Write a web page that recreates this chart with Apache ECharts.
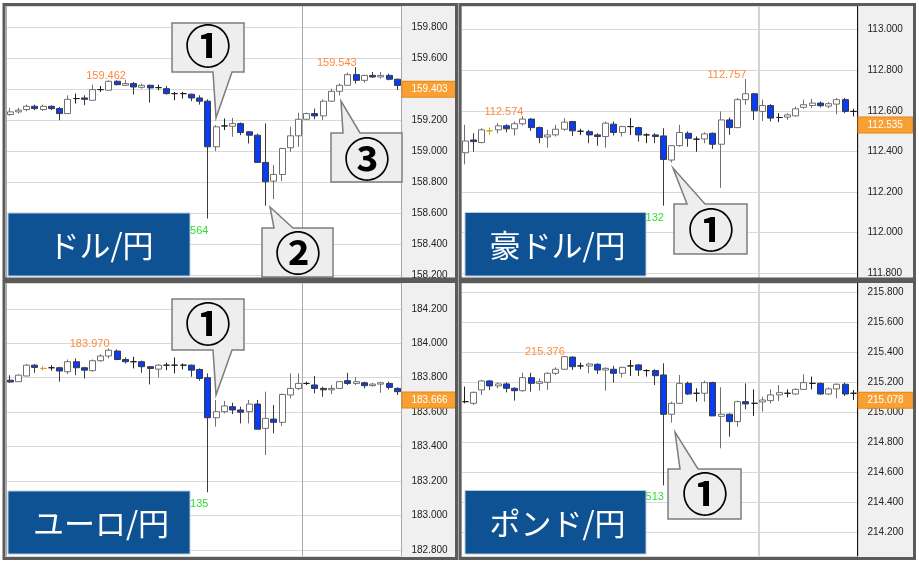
<!DOCTYPE html>
<html><head><meta charset="utf-8">
<script src="https://cdn.jsdelivr.net/npm/echarts@6/dist/echarts.min.js"></script>
<style>html,body{margin:0;padding:0;background:#fff}#c{width:919px;height:563px}</style>
</head><body><div id="c"></div>
<script>
// ---- DATA ([open, close, low, high]) ----
const categories = Array.from({length: 48}, (_, i) => String(i + 1));
const titles = ['ドル/円', '豪ドル/円', 'ユーロ/円', 'ポンド/円'];
const usdjpy = [
[159.237,159.254,159.228,159.280],[159.254,159.265,159.243,159.280],[159.269,159.290,159.258,159.301],[159.290,159.275,159.265,159.301],
[159.269,159.290,159.260,159.301],[159.290,159.275,159.265,159.296],[159.275,159.243,159.200,159.286],[159.243,159.335,159.243,159.361],
[159.340,159.340,159.308,159.372],[159.344,159.335,159.297,159.361],[159.329,159.398,159.329,159.430],[159.398,159.398,159.383,159.421],
[159.394,159.452,159.394,159.458],[159.452,159.430,159.426,159.458],[159.426,159.437,159.422,159.462],[159.437,159.415,159.366,159.447],
[159.413,159.426,159.404,159.437],[159.426,159.409,159.314,159.430],[159.411,159.411,159.394,159.430],[159.404,159.372,159.366,159.421],
[159.372,159.372,159.329,159.383],[159.372,159.372,159.340,159.383],[159.368,159.344,159.323,159.372],[159.344,159.323,159.301,159.361],
[159.323,159.028,158.564,159.335],[159.028,159.157,159.000,159.168],[159.163,159.163,159.136,159.211],[159.161,159.178,159.093,159.215],
[159.178,159.120,159.103,159.185],[159.125,159.103,159.050,159.129],[159.103,158.927,158.927,159.114],[158.927,158.802,158.647,159.179],
[158.806,158.849,158.690,158.910],[158.849,159.017,158.806,159.022],[159.022,159.099,158.996,159.157],[159.099,159.206,159.028,159.249],
[159.206,159.243,159.200,159.249],[159.243,159.228,159.206,159.275],[159.228,159.323,159.200,159.335],[159.323,159.387,159.318,159.404],
[159.387,159.426,159.361,159.437],[159.426,159.495,159.426,159.508],[159.495,159.458,159.437,159.543],[159.458,159.490,159.443,159.495],
[159.490,159.480,159.473,159.512],[159.480,159.490,159.469,159.512],[159.490,159.465,159.458,159.501],[159.465,159.425,159.395,159.469]];
const audjpy = [
[112.393,112.451,112.336,112.531],[112.456,112.448,112.398,112.489],[112.443,112.506,112.440,112.514],[112.501,112.501,112.481,112.517],
[112.506,112.526,112.489,112.539],[112.526,112.511,112.494,112.534],[112.511,112.536,112.478,112.547],[112.536,112.559,112.527,112.574],
[112.559,112.517,112.501,112.564],[112.517,112.468,112.440,112.522],[112.471,112.481,112.418,112.506],[112.481,112.509,112.473,112.531],
[112.509,112.544,112.501,112.564],[112.547,112.501,112.476,112.550],[112.499,112.499,112.481,112.511],[112.497,112.481,112.440,112.506],
[112.481,112.473,112.428,112.489],[112.473,112.539,112.418,112.547],[112.534,112.493,112.478,112.547],[112.493,112.522,112.473,112.526],
[112.522,112.522,112.481,112.564],[112.517,112.481,112.448,112.522],[112.481,112.481,112.440,112.489],[112.481,112.473,112.440,112.489],
[112.476,112.360,112.132,112.514],[112.357,112.428,112.345,112.431],[112.428,112.493,112.423,112.531],[112.489,112.464,112.423,112.498],
[112.460,112.460,112.398,112.473],[112.461,112.486,112.440,112.494],[112.489,112.435,112.412,112.493],[112.435,112.555,112.220,112.597],
[112.555,112.517,112.481,112.567],[112.517,112.655,112.514,112.663],[112.655,112.684,112.630,112.757],[112.684,112.600,112.555,112.688],
[112.597,112.626,112.550,112.655],[112.626,112.564,112.547,112.633],[112.567,112.567,112.544,112.588],[112.569,112.580,112.555,112.588],
[112.575,112.610,112.572,112.621],[112.617,112.630,112.610,112.655],[112.626,112.638,112.613,112.660],[112.638,112.625,112.617,112.646],
[112.623,112.635,112.613,112.643],[112.633,112.655,112.583,112.663],[112.655,112.597,112.588,112.663],[112.597,112.597,112.572,112.610]];
const eurjpy = [
[183.786,183.775,183.771,183.815],[183.777,183.815,183.777,183.819],[183.810,183.873,183.810,183.879],[183.873,183.860,183.829,183.879],
[183.854,183.854,183.841,183.868],[183.858,183.858,183.841,183.873],[183.858,183.839,183.777,183.864],[183.835,183.893,183.821,183.906],
[183.893,183.858,183.815,183.912],[183.858,183.844,183.796,183.864],[183.841,183.899,183.835,183.906],[183.899,183.926,183.893,183.937],
[183.926,183.960,183.912,183.970],[183.955,183.906,183.902,183.964],[183.906,183.893,183.883,183.918],[183.893,183.893,183.854,183.922],
[183.893,183.864,183.829,183.899],[183.864,183.854,183.761,183.868],[183.850,183.873,183.802,183.879],[183.873,183.873,183.844,183.887],
[183.873,183.873,183.825,183.918],[183.873,183.873,183.848,183.883],[183.873,183.844,183.806,183.877],[183.848,183.796,183.783,183.854],
[183.800,183.568,183.135,183.825],[183.568,183.603,183.516,183.671],[183.603,183.636,183.593,183.665],[183.632,183.613,183.589,183.655],
[183.613,183.600,183.535,183.632],[183.603,183.647,183.535,183.671],[183.647,183.501,183.501,183.671],[183.506,183.564,183.352,183.719],
[183.560,183.541,183.477,183.642],[183.541,183.703,183.520,183.709],[183.700,183.738,183.680,183.825],[183.738,183.767,183.729,183.825],
[183.767,183.767,183.758,183.777],[183.758,183.738,183.709,183.810],[183.738,183.730,183.690,183.748],[183.730,183.738,183.705,183.758],
[183.738,183.777,183.738,183.777],[183.783,183.767,183.758,183.829],[183.767,183.777,183.758,183.802],[183.771,183.754,183.738,183.777],
[183.754,183.763,183.748,183.771],[183.763,183.771,183.713,183.777],[183.767,183.744,183.732,183.777],[183.738,183.719,183.700,183.744]];
const gbpjpy = [
[215.071,215.071,215.060,215.171],[215.060,215.133,215.049,215.138],[215.149,215.209,215.116,215.216],[215.209,215.176,215.149,215.216],
[215.176,215.189,215.160,215.200],[215.189,215.160,215.133,215.200],[215.160,215.144,215.078,215.167],[215.144,215.231,215.138,215.264],
[215.231,215.193,215.138,215.264],[215.193,215.204,215.144,215.227],[215.200,215.260,215.149,215.267],[215.260,215.287,215.249,215.300],
[215.287,215.371,215.282,215.376],[215.368,215.304,215.282,215.372],[215.309,215.309,215.287,215.331],[215.309,215.322,215.260,215.331],
[215.320,215.282,215.256,215.327],[215.282,215.293,215.144,215.300],[215.287,215.260,215.198,215.309],[215.260,215.300,215.233,215.304],
[215.309,215.309,215.242,215.349],[215.316,215.282,215.242,215.322],[215.278,215.278,215.238,215.287],[215.278,215.244,215.182,215.287],
[215.249,214.987,214.513,215.327],[214.987,215.060,214.931,215.071],[215.060,215.193,215.056,215.249],[215.193,215.122,215.116,215.204],
[215.127,215.127,215.071,215.160],[215.127,215.198,215.071,215.211],[215.198,214.976,214.976,215.204],[214.973,214.987,214.760,215.167],
[214.987,214.938,214.838,214.993],[214.938,215.071,214.904,215.078],[215.071,215.056,215.020,215.193],[215.060,215.060,214.976,215.153],
[215.069,215.082,215.004,215.104],[215.078,215.116,215.060,215.153],[215.116,215.131,215.076,215.182],[215.127,215.127,215.100,215.153],
[215.122,215.153,215.116,215.160],[215.153,215.198,215.149,215.253],[215.193,215.193,215.153,215.238],[215.193,215.122,215.116,215.198],
[215.122,215.156,215.116,215.167],[215.156,215.187,215.093,215.193],[215.187,215.122,215.109,215.198],[215.127,215.127,215.082,215.149]];
const lastPrices = [159.403, 112.535, 183.666, 215.078];
const highLabels = [[[14,159.462],[42,159.543]], [[7,112.574],[34,112.757]], [[12,183.970]], [[12,215.376]]];
const lowLabels = [[[24,158.564]], [[24,112.132]], [[24,183.135]], [[24,214.513]]];
const highlightDoji = [[], [3], [4], []];
const yRanges = [[158.179,159.939],[111.775,113.117],[182.765,184.350],[214.042,215.862]];
const tickStep = 0.2;
const sessionBreakIndex = 36;
const calloutLabels = ['①', '②', '③', '①', '①', '①'];

// ---- LAYOUT ----
const grids = [
  {left: 6, top: 6, width: 395.5, height: 272},
  {left: 461, top: 6, width: 396.5, height: 272},
  {left: 6, top: 283, width: 395.5, height: 273},
  {left: 461, top: 283, width: 396.5, height: 273}
];
const numFont = '"Liberation Sans", Arial, sans-serif';
const datasets = [usdjpy, audjpy, eurjpy, gbpjpy];

const xAxis = grids.map((g, i) => ({
  type: 'category', gridIndex: i, data: categories, boundaryGap: true,
  axisLine: {show: false}, axisTick: {show: false}, axisLabel: {show: false},
  splitLine: {show: true, interval: (idx) => idx === 0 || idx === sessionBreakIndex,
    lineStyle: {color: i % 2 ? '#d2d2d2' : '#a8a8a8', width: i % 2 ? 2 : 1}}
}));
const yAxis = grids.map((g, i) => ({
  type: 'value', gridIndex: i, position: 'right', min: yRanges[i][0], max: yRanges[i][1],
  splitNumber: Math.round((yRanges[i][1] - yRanges[i][0]) / tickStep),
  axisLine: {show: i % 2 === 1, lineStyle: {color: '#111', width: 1}},
  axisTick: {show: false},
  axisLabel: {formatter: v => v.toFixed(3), fontSize: 10, color: '#222', margin: 10,
    fontFamily: numFont, showMinLabel: false, showMaxLabel: false},
  splitLine: {show: true, lineStyle: {color: '#d9d9d9', width: 1}}
}));

const series = datasets.map((d, i) => ({
  type: 'candlestick', xAxisIndex: i, yAxisIndex: i, barWidth: 6.5,
  data: d.map((v, k) => highlightDoji[i].includes(k)
      ? {value: v, itemStyle: {borderColorDoji: '#d9a21b'}} : v),
  itemStyle: {color: '#ffffff', color0: '#0a3cf2', borderColor: '#707070',
    borderColor0: '#3a3a3a', borderColorDoji: '#1e1e1e', borderWidth: 1},
  markPoint: {
    symbol: 'circle', symbolSize: 1, itemStyle: {color: 'transparent'}, silent: true, animation: false,
    data: highLabels[i].map(([k, v]) => ({coord: [k, v], value: v,
      label: {show: true, position: [0, 0], align: 'right', verticalAlign: 'bottom', offset: [1, 2],
        formatter: v.toFixed(3), color: '#ff8a3c', fontSize: 11, fontFamily: numFont}}))
      .concat(lowLabels[i].map(([k, v]) => ({coord: [k, v], value: v,
      label: {show: true, position: [0, 0], align: 'right', verticalAlign: 'top', offset: [1, 7],
        formatter: v.toFixed(3), color: '#33dd33', fontSize: 11, fontFamily: numFont}})))
  },
  markLine: {
    symbol: ['none', 'none'], silent: true, animation: false,
    lineStyle: {color: 'rgba(0,0,0,0)', width: 1, type: 'solid'},
    data: [{yAxis: lastPrices[i]}],
    label: {show: true, position: 'end', distance: 1, formatter: lastPrices[i].toFixed(3),
      color: '#fff', fontSize: 10, fontFamily: numFont, backgroundColor: '#f8a033',
      borderColor: '#e8861a', borderWidth: 1, padding: [3, 9, 2, 9], verticalAlign: 'middle'}
  }
}));

// ---- GRAPHICS (frames, titles, callouts) ----
const g = [];
const axisBg = [[401.5, 6, 54.5, 272], [857.5, 6, 57, 272], [401.5, 283, 54.5, 274], [857.5, 283, 57, 274]];
axisBg.forEach(r => g.push({type: 'rect', z: -1, shape: {x: r[0], y: r[1], width: r[2], height: r[3]}, style: {fill: '#f0f0f0'}}));
const frames = [[4, 4.5, 452.5, 274.5], [460, 4.5, 454.5, 274.5], [4, 281.5, 452.5, 277], [460, 281.5, 454.5, 277]];
frames.forEach(r => g.push({type: 'rect', z: 200, shape: {x: r[0], y: r[1], width: r[2], height: r[3]}, style: {fill: 'none', stroke: '#5b5b5b', lineWidth: 3}}));
const titleBoxes = [[8, 213, 182, 63], [465, 212.5, 181, 63.5], [8, 491, 182, 63], [465, 490.5, 181, 63.5]];
titleBoxes.forEach((r, i) => {
  g.push({type: 'rect', z: 150, shape: {x: r[0], y: r[1], width: r[2], height: r[3]}, style: {fill: '#0f5293', stroke: '#b7c9dc', lineWidth: 1}});
  g.push({type: 'text', z: 151, x: r[0] + r[2] / 2 + 2, y: r[1] + r[3] / 2 + 1, style: {text: titles[i], fill: '#fff',
    font: '31px "Noto Sans CJK JP", sans-serif', textAlign: 'center', textVerticalAlign: 'middle'}});
});
const calloutShapes = [
  {pts: [[172,23],[244,23],[244,72],[232,72],[216,118],[213,72],[172,72]], c: [208, 46]},
  {pts: [[262,228],[274,228],[270,207],[293,228],[333,228],[333,277],[262,277]], c: [298, 252.5]},
  {pts: [[331,133],[343,133],[341,101],[360,133],[402,133],[402,182],[331,182]], c: [367, 158.5]},
  {pts: [[674,204],[687,204],[673,168],[705,204],[747,204],[747,254],[674,254]], c: [711, 229.5]},
  {pts: [[172,299],[244,299],[244,350],[232,350],[216,395],[213,350],[172,350]], c: [208, 324]},
  {pts: [[668,469],[680,469],[675,432],[698,469],[741,469],[741,519],[668,519]], c: [705, 494]}
];
calloutShapes.forEach((s, i) => {
  g.push({type: 'polygon', z: 160, shape: {points: s.pts}, style: {fill: '#eeeeee', stroke: '#7d7d7d', lineWidth: 1.5}});
  g.push({type: 'text', z: 161, x: s.c[0], y: s.c[1], style: {text: calloutLabels[i], fill: '#000',
    font: 'bold 46px "Noto Sans CJK JP", sans-serif', textAlign: 'center', textVerticalAlign: 'middle'}});
});

const chart = echarts.init(document.getElementById('c'), null, {renderer: 'canvas'});
chart.setOption({
  animation: false, backgroundColor: '#fff',
  grid: grids, xAxis: xAxis, yAxis: yAxis, series: series,
  graphic: {elements: g}
});
</script></body></html>
